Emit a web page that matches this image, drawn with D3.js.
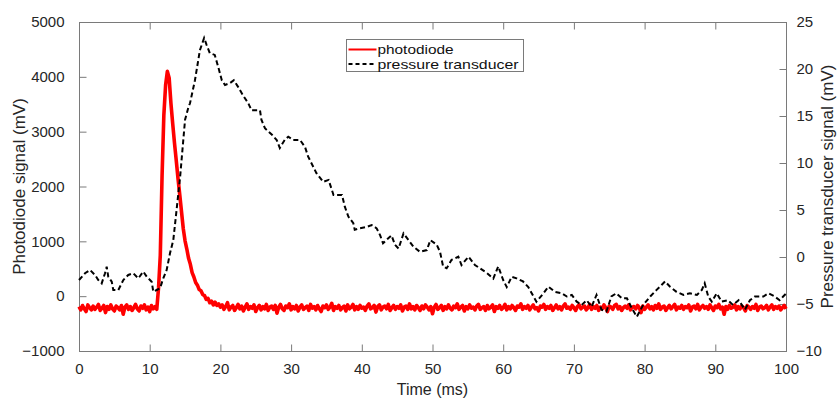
<!DOCTYPE html>
<html>
<head>
<meta charset="utf-8">
<script src="https://cdn.jsdelivr.net/npm/d3@7"></script>
<style>
  body { margin: 0; background: #fff; }
  svg { display: block; font-family: "Liberation Sans", Arial, sans-serif; }
  .axis path, .axis line { stroke: #7a7a7a; }
  .axis text { fill: #262626; font-size: 15px; }
</style>
</head>
<body>
<svg></svg>
<script>
// x axis: time in ms
let timeTicks = [0, 10, 20, 30, 40, 50, 60, 70, 80, 90, 100]
let photoTicks = [-1000, 0, 1000, 2000, 3000, 4000, 5000]
let pressureTicks = [-10, -5, 0, 5, 10, 15, 20, 25]

// photodiode signal (mV), one sample every 0.25 ms from 0 to 100 ms
let photoStep = 0.25
let photoBefore = [
  -190,-250,-170,-230,-280,-160,-210,-250,-180,-240,
  -200,-150,-260,-220,-170,-300,-190,-240,-160,-230,
  -270,-180,-210,-250,-170,-330,-200,-160,-240,-190,
  -260,-210,-150,-230,-270,-180,-220,-160,-250,-200,
  -280,-170,-230,-190,-240
]
let photoPulse = [
  150, 750, 2200, 3300, 3850, 4100, 3980, 3520, 3150, 2800,
  2480, 2150, 1850, 1540, 1230, 1010, 860, 690, 580, 430,
  350, 250, 200, 120, 100, 30, 10, -60, -40, -120,
  -90, -160, -110, -170, -140, -200
]
let photoAfter = [
  -160,-240,-190,-120,-250,-200,-170,-260,-210,-150,
  -230,-180,-270,-200,-140,-240,-190,-220,-160,-280,
  -210,-170,-250,-190,-230,-150,-260,-200,-180,-240,
  -170,-310,-200,-150,-230,-260,-180,-210,-140,-250,
  -190,-230,-170,-270,-200,-160,-240,-210,-180,-260,
  -150,-220,-190,-250,-170,-230,-280,-180,-210,-160,
  -240,-200,-130,-260,-190,-220,-170,-250,-210,-180,
  -270,-160,-230,-200,-150,-250,-190,-240,-170,-220,
  -200,-260,-180,-140,-230,-210,-170,-290,-190,-160,
  -250,-200,-180,-230,-150,-260,-210,-170,-240,-190,
  -220,-160,-270,-200,-180,-240,-140,-230,-190,-250,
  -170,-210,-260,-180,-230,-160,-200,-250,-190,-320,
  -200,-150,-240,-210,-170,-260,-190,-230,-160,-220,
  -250,-180,-210,-140,-240,-200,-170,-270,-190,-230,
  -160,-220,-200,-250,-180,-150,-240,-210,-190,-260,
  -170,-230,-200,-160,-280,-190,-220,-170,-240,-210,
  -150,-250,-190,-230,-170,-210,-260,-180,-200,-140,
  -240,-190,-220,-170,-250,-200,-160,-230,-210,-270,
  -180,-200,-150,-240,-190,-220,-170,-260,-210,-160,
  -230,-190,-250,-180,-140,-220,-200,-240,-170,-210,
  -260,-190,-160,-230,-200,-180,-250,-210,-150,-240,
  -190,-220,-170,-260,-200,-230,-160,-210,-280,-180,
  -200,-240,-170,-150,-230,-190,-260,-210,-180,-220,
  -160,-250,-200,-190,-230,-170,-210,-300,-180,-240,
  -200,-160,-230,-190,-250,-170,-220,-140,-240,-200,
  -180,-260,-210,-170,-230,-190,-150,-250,-200,-220,
  -170,-240,-190,-210,-160,-270,-200,-180,-230,-150,
  -250,-200,-170,-220,-190,-240,-160,-210,-260,-180,
  -210,-150,-230,-200,-330,-190,-240,-170,-220,-200,
  -160,-250,-190,-230,-180,-210,-270,-170,-200,-240,
  -190,-220,-150,-260,-200,-180,-230,-210,-170,-250,
  -200,-160,-240,-190,-220,-180,-250,-210,-170,-230
]

// pressure transducer signal (mV)
let pressureTime = [
  0, 0.85, 1.56, 2.26, 2.73, 3.21, 3.68, 3.92, 4.14, 4.63, 4.85, 5.56, 6.27, 6.97, 7.68, 8.39,
  9.09, 9.58, 10.28, 10.51, 10.99, 11.46, 11.92, 12.4, 12.87, 13.34, 13.8, 14.3, 15.0, 15.5, 15.7,
  16.4, 17.1, 17.7, 18.06, 18.5, 19.2, 19.7, 20.2, 20.65, 21.36, 21.9, 22.5, 23.2, 23.95, 24.4,
  25.6, 25.8, 26.3, 27.3, 27.96, 28.4, 29.1, 29.6, 30.3, 31.26, 31.97, 32.4, 33.6, 34.55, 35.3,
  36.0, 37.2, 37.6, 38.1, 38.8, 39.0, 39.7, 40.7, 41.4, 42.1, 42.6, 43.0, 43.75, 44.2, 44.7, 45.2,
  45.9, 46.6, 47.3, 48.2, 49.2, 49.7, 50.6, 51.06, 51.5, 52.0, 52.7, 53.65, 54.1, 55.1, 56.0, 56.7,
  57.7, 58.6, 59.3, 60.0, 60.5, 61.2, 61.9, 62.8, 63.55, 64.7, 65.7, 66.4, 67.3, 68.3, 69.0, 69.7,
  70.4, 71.1, 71.8, 72.5, 73.2, 73.9, 74.6, 75.3, 76.0, 76.8, 77.5, 78.2, 78.9, 79.8, 80.8, 81.7,
  82.4, 82.9, 83.6, 84.5, 85.5, 86.4, 87.4, 88.1, 88.5, 89.0, 89.5, 90.2, 90.9, 91.8, 92.5, 93.3,
  94.2, 94.9, 95.6, 96.8, 97.5, 98.4, 99.1, 99.6, 100
]
let pressureValue = [
  -2.45, -1.73, -1.38, -1.91, -2.45, -2.8, -1.73, -1.03, -2.1, -2.63, -3.51, -3.51, -2.45, -1.91, -1.73, -2.27,
  -1.56, -2.1, -2.63, -3.69, -3.51, -3.33, -2.27, -1.38, 0.39, 1.8, 5.0, 8.5, 14.6, 16.0, 16.35,
  18.8, 22.0, 23.3, 22.55, 21.7, 21.5, 20.2, 18.8, 18.3, 18.5, 18.8, 18.1, 17.2, 16.35, 15.6,
  15.6, 14.6, 13.7, 13.0, 12.45, 11.6, 12.45, 12.8, 12.45, 12.45, 11.7, 10.7, 8.9, 8.0, 8.2,
  6.6, 6.6, 5.35, 4.3, 3.6, 2.9, 3.05, 3.2, 3.4, 3.05, 2.3, 1.46, 2.0, 2.3, 1.3, 0.9,
  2.5, 1.8, 1.1, 0.56, 0.74, 1.8, 1.3, 0.56, -1.0, -1.2, -0.3, 0.03, -0.85, 0.03, -0.85, -1.2,
  -1.7, -2.3, -1.0, -2.45, -3.2, -2.1, -2.27, -2.6, -3.2, -4.75, -3.86, -3.16, -3.7, -3.86, -4.2, -4.04,
  -4.75, -5.1, -4.6, -5.3, -4.04, -5.6, -5.8, -4.2, -3.86, -4.4, -4.4, -5.46, -6.35, -5.1, -4.2, -3.5,
  -2.98, -2.6, -3.16, -3.7, -4.04, -3.86, -4.04, -3.5, -2.8, -4.2, -4.75, -3.86, -4.75, -4.6, -5.1, -4.6,
  -5.6, -4.6, -4.2, -4.2, -3.86, -4.2, -4.6, -4.2, -3.9
]

let legendLabels = ['photodiode', 'pressure transducer']

let width = 837
let height = 401
let margin = {left: 79, right: 51, top: 22, bottom: 50}

let svg = d3.select('svg').attr('width', width).attr('height', height)

let xScale = d3.scaleLinear().domain([0, 100]).range([margin.left, width - margin.right])
let yLeft = d3.scaleLinear().domain([-1000, 5000]).range([height - margin.bottom, margin.top])
let yRight = d3.scaleLinear().domain([-10, 25]).range([height - margin.bottom, margin.top])

let photoValues = photoBefore.concat(photoPulse, photoAfter)
let photoData = photoValues.map((v, i) => [i * photoStep, v])
let pressureData = pressureTime.map((t, i) => [t, pressureValue[i]])

let innerW = width - margin.left - margin.right
let innerH = height - margin.top - margin.bottom

// frame
svg.append('rect')
  .attr('x', margin.left + 0.5).attr('y', margin.top + 0.5)
  .attr('width', innerW).attr('height', innerH)
  .attr('fill', 'none').attr('stroke', '#7a7a7a')

// axes with inward ticks
let fmt = d3.format('d')
svg.append('g').attr('class', 'axis')
  .attr('transform', 'translate(0,' + (height - margin.bottom + 0.5) + ')')
  .call(d3.axisBottom(xScale).tickValues(timeTicks).tickFormat(fmt).tickSizeInner(-7).tickSizeOuter(0).tickPadding(12))
svg.append('g').attr('class', 'axis')
  .attr('transform', 'translate(0,' + (margin.top + 0.5) + ')')
  .call(d3.axisTop(xScale).tickValues(timeTicks).tickFormat('').tickSizeInner(-7).tickSizeOuter(0))
svg.append('g').attr('class', 'axis')
  .attr('transform', 'translate(' + (margin.left + 0.5) + ',0)')
  .call(d3.axisLeft(yLeft).tickValues(photoTicks).tickFormat(fmt).tickSizeInner(-7).tickSizeOuter(0).tickPadding(15))
svg.append('g').attr('class', 'axis')
  .attr('transform', 'translate(' + (width - margin.right + 0.5) + ',0)')
  .call(d3.axisRight(yRight).tickValues(pressureTicks).tickFormat(fmt).tickSizeInner(-7).tickSizeOuter(0).tickPadding(10))
svg.selectAll('.axis .domain').remove()

// traces
let photoLine = d3.line().x(d => xScale(d[0])).y(d => yLeft(d[1]))
let pressureLine = d3.line().x(d => xScale(d[0])).y(d => yRight(d[1]))

svg.append('path').datum(photoData)
  .attr('d', photoLine)
  .attr('fill', 'none').attr('stroke', '#ff0000').attr('stroke-width', 3.6)
  .attr('stroke-linejoin', 'round')

svg.append('path').datum(pressureData)
  .attr('d', pressureLine)
  .attr('fill', 'none').attr('stroke', '#000').attr('stroke-width', 2)
  .attr('stroke-dasharray', '5,3')

// axis titles
svg.append('text')
  .attr('transform', 'translate(25,' + (margin.top + innerH / 2) + ') rotate(-90)')
  .attr('text-anchor', 'middle').attr('font-size', 17).attr('fill', '#262626')
  .text('Photodiode signal (mV)')
svg.append('text')
  .attr('transform', 'translate(833,' + (margin.top + innerH / 2) + ') rotate(-90)')
  .attr('text-anchor', 'middle').attr('font-size', 17).attr('fill', '#262626')
  .text('Pressure transducer signal (mV)')
svg.append('text')
  .attr('x', margin.left + innerW / 2).attr('y', 395)
  .attr('text-anchor', 'middle').attr('font-size', 16).attr('fill', '#262626')
  .text('Time (ms)')

// legend
let legend = svg.append('g').attr('transform', 'translate(346.5,39.5)')
legend.append('rect').attr('width', 177).attr('height', 32)
  .attr('fill', '#fff').attr('stroke', '#7a7a7a')
let legendStyles = [
  {stroke: '#ff0000', dash: null},
  {stroke: '#000', dash: '4,3'}
]
legendLabels.forEach((label, i) => {
  let y = 10 + i * 14.5
  legend.append('line')
    .attr('x1', 2).attr('x2', 30).attr('y1', y).attr('y2', y)
    .attr('stroke', legendStyles[i].stroke).attr('stroke-width', 2)
    .attr('stroke-dasharray', legendStyles[i].dash)
  legend.append('text')
    .attr('x', 31).attr('y', y + 4.5)
    .attr('font-size', 13).attr('fill', '#111')
    .attr('textLength', i === 0 ? 76 : 141).attr('lengthAdjust', 'spacingAndGlyphs')
    .text(label)
})
</script>
</body>
</html>
